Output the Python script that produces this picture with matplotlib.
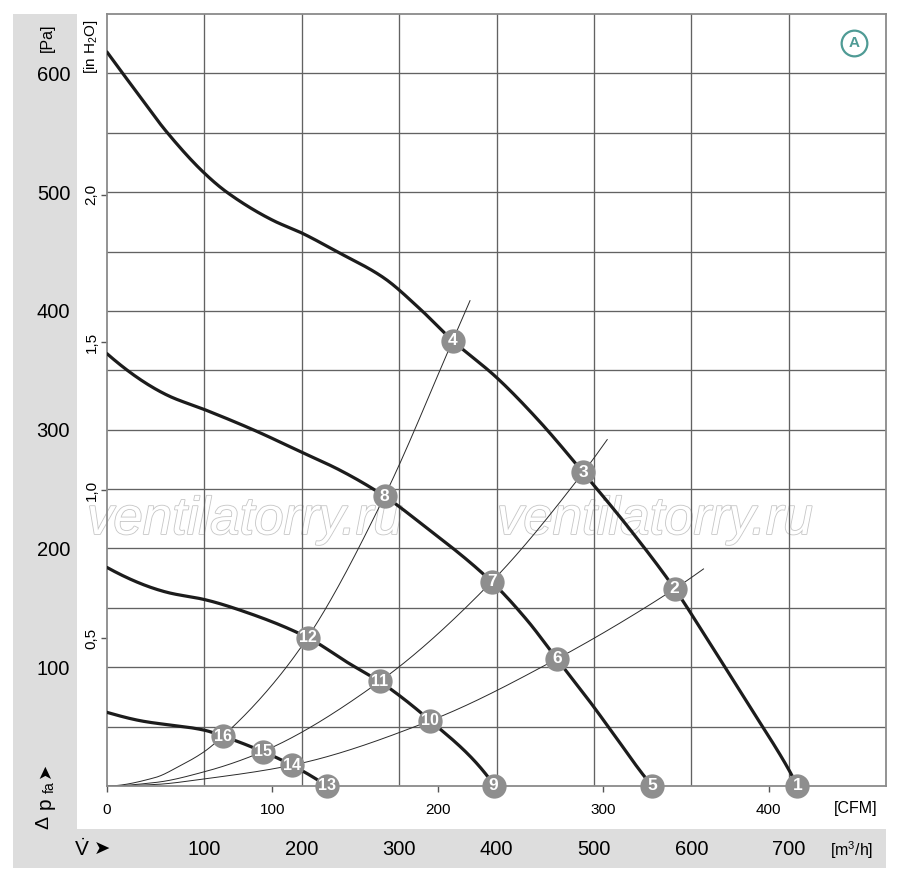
import numpy as np
import matplotlib
matplotlib.use("Agg")
import matplotlib.pyplot as plt
import matplotlib.patheffects as pe
from matplotlib.patches import Rectangle

# ---------------- data (flow in m3/h, pressure in Pa) ----------------
flow_1 = [0, 27, 62, 100, 123, 171, 199, 236, 284, 321, 355, 400, 443, 489, 540, 583, 620, 660, 700, 709]
pres_1 = [618, 588, 550, 516, 500, 476, 466, 450, 428, 402, 375, 344, 308, 264, 213, 166, 119, 67, 14, 0]

flow_2 = [0, 62, 100, 150, 200, 239, 285, 321, 395, 431, 462, 495, 520, 551, 560]
pres_2 = [364, 329, 317, 300, 281, 266, 244, 222, 172, 140, 107, 72, 44, 9, 0]

flow_3 = [0, 62, 100, 144, 206, 249, 280, 332, 390, 397]
pres_3 = [184, 163, 157, 146, 125, 103, 88, 55, 9, 0]

flow_4 = [0, 34, 100, 119, 160, 190, 226]
pres_4 = [62, 55, 47, 42, 29, 17.5, 0]

sys_a_flow = [0, 49, 75, 100, 119, 160, 206, 285, 355, 373]
sys_a_pres = [0, 7, 17, 29, 42, 76, 125, 244, 375, 409]
sys_b_flow = [0, 50, 100, 160, 280, 395, 489, 514]
sys_b_pres = [0, 3, 12, 29, 88, 172, 264, 292]
sys_c_flow = [0, 50, 100, 190, 332, 462, 583, 613]
sys_c_pres = [0, 1.3, 6, 17.5, 55, 107, 166, 183]

op_labels = ["1", "2", "3", "4", "5", "6", "7", "8", "9", "10", "11", "12", "13", "14", "15", "16"]
op_flow = [709, 583, 489, 355, 560, 462, 395, 285, 397, 332, 280, 206, 226, 190, 160, 119]
op_pres = [0, 166, 264, 375, 0, 107, 172, 244, 0, 55, 88, 125, 0, 17.5, 29, 42]

pa_ticks = [100, 200, 300, 400, 500, 600]
inh2o_ticks = [0.5, 1.0, 1.5, 2.0]
inh2o_labels = ["0,5", "1,0", "1,5", "2,0"]
m3h_ticks = [100, 200, 300, 400, 500, 600, 700]
cfm_ticks = [0, 100, 200, 300, 400]

PA_PER_INH2O = 249.0
M3H_PER_CFM = 1.699


def smooth(x, y, n=400):
    x = np.asarray(x, float)
    y = np.asarray(y, float)
    h = np.diff(x)
    d = np.diff(y) / h
    m = np.zeros_like(x)
    for k in range(1, len(x) - 1):
        if d[k - 1] * d[k] > 0:
            w1 = 2 * h[k] + h[k - 1]
            w2 = h[k] + 2 * h[k - 1]
            m[k] = (w1 + w2) / (w1 / d[k - 1] + w2 / d[k])

    def end(h0, h1, d0, d1):
        mm = ((2 * h0 + h1) * d0 - h0 * d1) / (h0 + h1)
        if np.sign(mm) != np.sign(d0):
            mm = 0.0
        elif np.sign(d0) != np.sign(d1) and abs(mm) > abs(3 * d0):
            mm = 3 * d0
        return mm

    m[0] = end(h[0], h[1], d[0], d[1])
    m[-1] = end(h[-1], h[-2], d[-1], d[-2])
    xs = np.linspace(x[0], x[-1], n)
    idx = np.clip(np.searchsorted(x, xs) - 1, 0, len(h) - 1)
    t = (xs - x[idx]) / h[idx]
    h00 = 2 * t**3 - 3 * t**2 + 1
    h10 = t**3 - 2 * t**2 + t
    h01 = -2 * t**3 + 3 * t**2
    h11 = t**3 - t**2
    ys = h00 * y[idx] + h10 * h[idx] * m[idx] + h01 * y[idx + 1] + h11 * h[idx] * m[idx + 1]
    return xs, ys


plt.rcParams["font.family"] = ["Liberation Sans", "DejaVu Sans"]
plt.rcParams["mathtext.default"] = "regular"
NARROW = ["Liberation Sans Narrow", "Liberation Sans", "DejaVu Sans"]

W, H = 900, 883
fig = plt.figure(figsize=(W / 100, H / 100), dpi=100)


def fx(px):
    return px / W


def fy(py):
    return 1 - py / H


GRAY = "#dddddd"
fig.patches.append(Rectangle((fx(13), fy(868)), fx(77) - fx(13), fy(14) - fy(868),
                             transform=fig.transFigure, facecolor=GRAY, edgecolor="none", zorder=-5))
fig.patches.append(Rectangle((fx(13), fy(868)), fx(886) - fx(13), fy(829) - fy(868),
                             transform=fig.transFigure, facecolor=GRAY, edgecolor="none", zorder=-5))

ax = fig.add_axes([fx(107), fy(786), (886 - 107) / W, (786 - 14) / H])
ax.set_xlim(0, 800)
ax.set_ylim(0, 650)
for s in ax.spines.values():
    s.set_color("#8a8a8a")
    s.set_linewidth(1.3)

# grid
for v in range(100, 800, 100):
    ax.axvline(v, color="#626262", lw=0.95, zorder=1)
for hh in range(50, 650, 50):
    ax.axhline(hh, color="#626262", lw=0.95, zorder=1)

# watermark
for cx in (245, 655):
    ax.text(fx(cx), fy(520), "ventilatorry.ru", transform=fig.transFigure, ha="center", va="center",
            fontsize=38, style="italic", color="white", zorder=0.5,
            path_effects=[pe.Stroke(linewidth=1.2, foreground="#c6c6c6"), pe.Normal()])

# system curves
for fxs, pys in ((sys_a_flow, sys_a_pres), (sys_b_flow, sys_b_pres), (sys_c_flow, sys_c_pres)):
    xs, ys = smooth(fxs, pys)
    ax.plot(xs, ys, color="#2a2a2a", lw=0.7, zorder=2, solid_capstyle="butt")

# fan curves
for fxs, pys in ((flow_1, pres_1), (flow_2, pres_2), (flow_3, pres_3), (flow_4, pres_4)):
    xs, ys = smooth(fxs, pys)
    ax.plot(xs, ys, color="#1c1c1c", lw=2.3, zorder=3, solid_capstyle="round")

# operating points
ax.plot(op_flow, op_pres, "o", ms=17.5, mfc="#8e8e8e", mec="none", zorder=4, clip_on=False)
for lab, xv, yv in zip(op_labels, op_flow, op_pres):
    ax.text(xv, yv, lab, ha="center", va="center", color="white",
            fontsize=12.5 if len(lab) == 1 else 11.5,
            fontweight="bold", family=NARROW, zorder=5, clip_on=False)

# Pa ticks (left)
ax.set_yticks(pa_ticks)
ax.set_yticklabels([str(v) for v in pa_ticks])
ax.tick_params(axis="y", length=0, pad=26.5, labelsize=14.5)

# m3/h ticks (bottom, in gray band)
ax.set_xticks(m3h_ticks)
ax.set_xticklabels([str(v) for v in m3h_ticks])
ax.tick_params(axis="x", length=0, pad=39, labelsize=14.5)

# inH2O secondary axis
sec_y = ax.secondary_yaxis("left", functions=(lambda p: p / PA_PER_INH2O, lambda i: i * PA_PER_INH2O))
sec_y.set_yticks(inh2o_ticks)
sec_y.set_yticklabels(inh2o_labels, rotation=90, va="center", family=NARROW)
sec_y.tick_params(length=4, width=1, color="#555555", pad=2, labelsize=11)
sec_y.spines["left"].set_visible(False)

# CFM secondary axis
sec_x = ax.secondary_xaxis("bottom", functions=(lambda q: q / M3H_PER_CFM, lambda c: c * M3H_PER_CFM))
sec_x.set_xticks(cfm_ticks)
sec_x.set_xticklabels([str(v) for v in cfm_ticks])
sec_x.tick_params(length=4.5, width=1, color="#555555", pad=8, labelsize=11)
sec_x.spines["bottom"].set_visible(False)

# unit labels
fig.text(fx(47), fy(38), "[Pa]", rotation=90, ha="center", va="center", fontsize=11.5, family=NARROW)
fig.text(fx(91), fy(47), "[in H$_2$O]", rotation=90, ha="center", va="center", fontsize=11, family=NARROW)
fig.text(fx(856), fy(808), "[CFM]", ha="center", va="center", fontsize=11.5, family=NARROW)
fig.text(fx(852), fy(850), "[m$^3$/h]", ha="center", va="center", fontsize=11.5, family=NARROW)

# axis symbols
fig.text(fx(44), fy(822), "Δ", rotation=90, ha="center", va="center", fontsize=14)
fig.text(fx(45), fy(803), "p", rotation=90, ha="center", va="center", fontsize=15)
fig.text(fx(50), fy(787), "fa", rotation=90, ha="center", va="center", fontsize=10)
fig.text(fx(45), fy(770), "➤", rotation=90, ha="center", va="center", fontsize=13, family=["DejaVu Sans"])
fig.text(fx(82), fy(849), r"$\dot{V}$", ha="center", va="center", fontsize=15)
fig.text(fx(102), fy(849), "➤", ha="center", va="center", fontsize=14, family=["DejaVu Sans"])

# badge "A"
ax.plot([fx(854)], [fy(43)], transform=fig.transFigure, marker="o", ms=18.5, mfc="none",
        mec="#4f9b95", mew=1.6, zorder=6, clip_on=False)
ax.text(fx(854), fy(43), "A", transform=fig.transFigure, ha="center", va="center", fontsize=11,
        fontweight="bold", color="#4f9b95", family=NARROW, zorder=6)

fig.savefig("out.png", dpi=100)
